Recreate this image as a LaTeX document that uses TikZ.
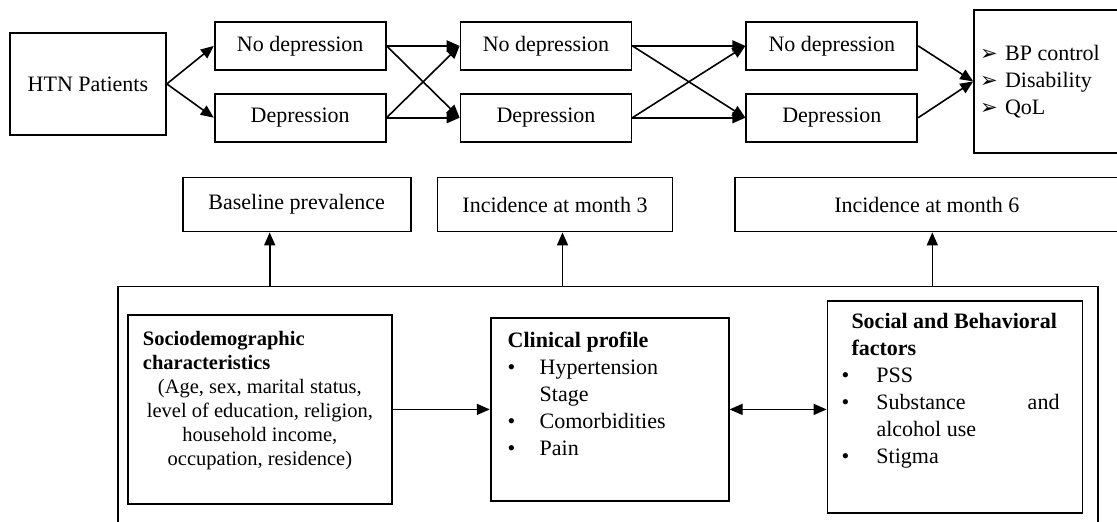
\documentclass[tikz,border=0pt]{standalone}
\usepackage{fontspec}
\setmainfont{Liberation Serif}
\newfontfamily\arrowfont{DejaVu Sans}
\usetikzlibrary{positioning, arrows.meta}
\tikzstyle{state} = [rectangle, minimum width=171pt, minimum height=48pt, inner sep=0pt,
text centered, draw=black, line width=1.8pt, font=\fontsize{22}{27}\selectfont]
\tikzstyle{source} = [state, minimum width=156pt, minimum height=102pt]
\tikzstyle{measure} = [state, minimum height=54pt]
\tikzstyle{factor} = [rectangle, inner sep=0pt, draw=black, line width=1.8pt,
font=\fontsize{22}{27}\selectfont]
\tikzstyle{arrow} = [line width=1.6pt, ->, >={Triangle[length=13pt, width=11pt]}]
\newcommand{\bul}[1]{\makebox[#1][l]{•}}
\newcommand{\mk}{\makebox[25pt][l]{\arrowfont\fontsize{21}{21}\selectfont ➢}}

\begin{document}
\begin{tikzpicture}[node distance = 20pt]
\useasboundingbox (0pt,0pt) rectangle (1117pt,-522pt);
\clip (0pt,0pt) rectangle (1117pt,-522pt);

% ------------------------- nodes -------------------------

% ----- node: 0
\node(0)[source, anchor=north west] at (9pt,-32pt) {HTN Patients};
% ----- node: 1
\node(1)[state, right=47pt of 0, yshift=38pt] {No depression};
% ----- node: 2
\node(2)[state, below=22pt of 1] {Depression};
% ----- node: 3
\node(3)[state, right=73pt of 1] {No depression};
% ----- node: 4
\node(4)[state, right=73pt of 2] {Depression};
% ----- node: 5
\node(5)[state, right=113pt of 3] {No depression};
% ----- node: 6
\node(6)[state, right=113pt of 4] {Depression};
% ----- node: 7
\node(7)[factor, right=55pt of 5, yshift=-35.5pt] {\parbox[c][143pt][c]{148pt}{\leftskip=6pt
\mk BP control\\ \mk Disability\\ \mk QoL}};
% ----- node: 8
\node(8)[measure, minimum width=228pt, below=34pt of 2, xshift=-3.5pt] {Baseline prevalence};
% ----- node: 9
\node(9)[measure, minimum width=235pt, right=25pt of 8] {Incidence at month 3};
% ----- node: 10
\node(10)[measure, minimum width=383pt, right=61pt of 9] {Incidence at month 6};
% ----- node: 11
\node(11)[factor, minimum width=980pt, minimum height=260pt, anchor=north west] at (117pt,-285.5pt) {};
% ----- node: 12
\node(12)[factor, anchor=north west] at (127pt,-314pt) {\parbox[c][189pt][t]{264pt}{%
\fontsize{20.5}{24}\selectfont\vspace*{16pt}%
{\raggedright\leftskip=15pt \textbf{Sociodemographic}\\ \textbf{characteristics}\par}%
{\centering (Age, sex, marital status,\\ level of education, religion,\\ household income,\\ occupation, residence)\par}}};
% ----- node: 13
\node(13)[factor, right=97pt of 12] {\parbox[c][183pt][t]{238pt}{\vspace*{14pt}\raggedright\leftskip=17pt
\textbf{Clinical profile}\\
\bul{32pt}Hypertension\\
\hspace*{32pt}Stage\\
\bul{32pt}Comorbidities\\
\bul{32pt}Pain}};
% ----- node: 14
\node(14)[factor, right=97pt of 13, yshift=2.5pt] {\parbox[c][212pt][t]{255pt}{\vspace*{12pt}\raggedright\leftskip=14pt
\hspace*{10pt}\textbf{Social and Behavioral}\\
\hspace*{10pt}\textbf{factors}\\
\bul{35pt}PSS\\
\bul{35pt}\makebox[183pt]{Substance\hfill and}\\
\hspace*{35pt}alcohol use\\
\bul{35pt}Stigma}};

% ------------------------- arrows -------------------------

\draw[arrow] (0.east) -- (1.west);
\draw[arrow] (0.east) -- (2.west);
\draw[arrow] (1.east) -- (3.west);
\draw[arrow] (1.east) -- (4.west);
\draw[arrow] (2.east) -- (3.west);
\draw[arrow] (2.east) -- (4.west);
\draw[arrow] (3.east) -- (5.west);
\draw[arrow] (3.east) -- (6.west);
\draw[arrow] (4.east) -- (5.west);
\draw[arrow] (4.east) -- (6.west);
\draw[arrow] (5.east) -- (7.west);
\draw[arrow] (6.east) -- (7.west);

\coordinate (a8) at ([xshift=-27pt]8.south |- 11.north);
\coordinate (a9) at ([xshift=7.5pt]9.south |- 11.north);
\coordinate (a10) at ([xshift=5.5pt]10.south |- 11.north);
\draw[arrow] (a8) -- (a8 |- 8.south);
\draw[arrow] (a9) -- (a9 |- 9.south);
\draw[arrow] (a10) -- (a10 |- 10.south);

\draw[arrow] (12) -- (13);
\draw[arrow, <->] (13.east) -- (13.east -| 14.west);

\end{tikzpicture}
\end{document}
